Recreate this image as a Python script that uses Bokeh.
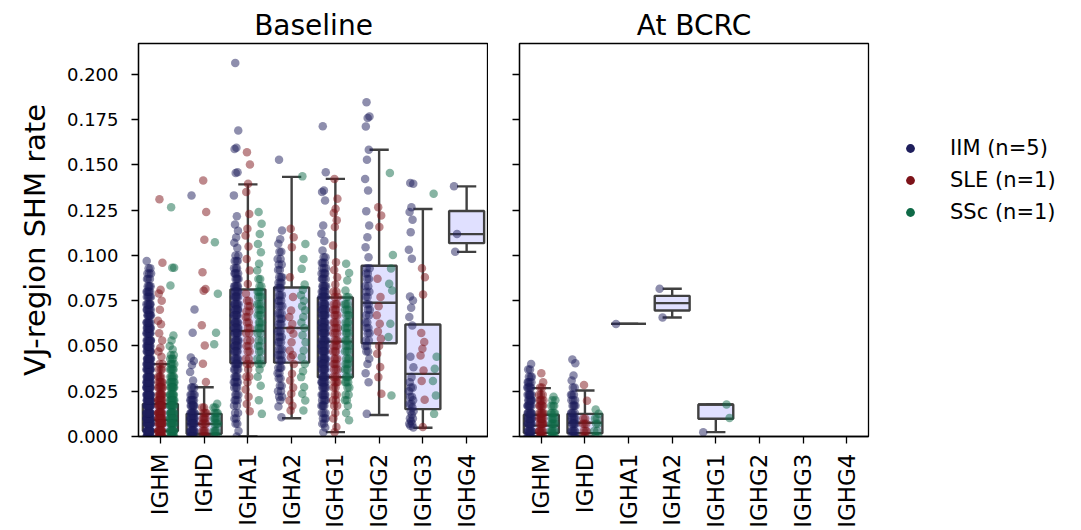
import math
from bokeh.plotting import figure
from bokeh.models import (FactorRange, Range1d, FixedTicker, PrintfTickFormatter,
                          CustomJSTickFormatter, Legend, LegendItem, ColumnDataSource)
from bokeh.layouts import row
from bokeh.embed import file_html
from bokeh.resources import INLINE

# ---------------- data ----------------
isotypes = ["IGHM", "IGHD", "IGHA1", "IGHA2", "IGHG1", "IGHG2", "IGHG3", "IGHG4"]
groups = ["IIM (n=5)", "SLE (n=1)", "SSc (n=1)"]
colors = ["#1e1e5c", "#7d1319", "#0f6a47"]

# box statistics (q1, median, q3, lower whisker, upper whisker)
bl_box_iso = ["IGHM", "IGHD", "IGHA1", "IGHA2", "IGHG1", "IGHG2", "IGHG3", "IGHG4"]
bl_q1 = [0.003, 0.0015, 0.0406, 0.0408, 0.0327, 0.0515, 0.0151, 0.1068]
bl_med = [0.009, 0.007, 0.0583, 0.0599, 0.0524, 0.0739, 0.0346, 0.1118]
bl_q3 = [0.018, 0.0125, 0.0812, 0.0823, 0.0768, 0.0943, 0.0619, 0.1246]
bl_lo = [0.0, 0.0, 0.0, 0.0101, 0.0024, 0.0119, 0.0048, 0.1020]
bl_hi = [0.040, 0.0272, 0.1393, 0.1434, 0.1423, 0.1584, 0.1257, 0.1382]

bc_box_iso = ["IGHM", "IGHD", "IGHA1", "IGHA2", "IGHG1"]
bc_q1 = [0.002, 0.0018, 0.0622, 0.0696, 0.0098]
bc_med = [0.006, 0.0076, 0.0622, 0.0737, 0.0177]
bc_q3 = [0.012, 0.0125, 0.0622, 0.0777, 0.0177]
bc_lo = [0.0, 0.0, 0.0622, 0.0657, 0.0024]
bc_hi = [0.0267, 0.0254, 0.0622, 0.0816, 0.0177]

# points: value or (value, count)
bl_IGHM_IIM = [(0.000, 12), (0.003, 14), (0.007, 14), (0.010, 14), (0.013, 14), (0.017, 14), (0.020, 13),
               (0.023, 13), (0.027, 12), (0.030, 12), (0.033, 11), (0.037, 11), (0.040, 10), (0.043, 10),
               (0.047, 9), (0.050, 9), (0.053, 9), (0.057, 8), (0.060, 8), (0.063, 7), (0.067, 7),
               (0.070, 6), (0.073, 6), (0.077, 5), (0.080, 5), (0.083, 4), (0.087, 3), (0.090, 3),
               (0.093, 2), (0.097, 1)]
bl_IGHM_SLE = [0.131, 0.096, 0.081, 0.079, 0.075, 0.070, 0.064, 0.062, 0.057, 0.053, 0.049, 0.047, 0.044,
               (0.040, 2), (0.037, 3), (0.033, 4), (0.030, 5), (0.027, 6), (0.023, 7), (0.020, 8),
               (0.017, 9), (0.013, 10), (0.010, 10), (0.007, 10), (0.003, 10), (0.000, 10)]
bl_IGHM_SSc = [0.1267, (0.0932, 2), 0.0834, 0.0558, 0.053, 0.050, 0.048, (0.045, 2), (0.043, 3), (0.040, 4),
               (0.037, 5), (0.033, 5), (0.030, 6), (0.027, 7), (0.023, 7), (0.020, 8), (0.017, 8),
               (0.013, 9), (0.010, 9), (0.007, 9), (0.003, 9), (0.000, 8)]
bl_IGHD_IIM = [0.1331, 0.0702, 0.0573, 0.0437, 0.0417, 0.0395, 0.0356, 0.031, (0.027, 3), (0.023, 4),
               (0.020, 5), (0.017, 6), (0.013, 7), (0.010, 8), (0.007, 8), (0.003, 8), (0.000, 7)]
bl_IGHD_SLE = [0.1414, 0.124, 0.1087, 0.0908, 0.0815, 0.0805, 0.0614, 0.0503, 0.0402, 0.0301,
               (0.016, 2), (0.013, 3), (0.010, 4), (0.007, 4), (0.003, 4), (0.000, 3)]
bl_IGHD_SSc = [0.1073, 0.0788, 0.0573, 0.0509, 0.0181, (0.016, 2), (0.013, 3), (0.010, 4), (0.007, 4),
               (0.003, 4), (0.000, 3)]
bl_IGHA1_IIM = [0.2063, 0.1691, 0.1595, 0.1588, 0.1460, 0.1455, 0.1332, 0.1217, 0.1171, 0.1137, 0.1100,
                0.1070, 0.1042, (0.100, 2), (0.097, 3), (0.093, 3), (0.090, 4), (0.087, 4), (0.083, 5),
                (0.080, 5), (0.077, 6), (0.073, 6), (0.070, 6), (0.067, 6), (0.063, 6), (0.060, 6),
                (0.057, 6), (0.053, 6), (0.050, 6), (0.047, 5), (0.043, 5), (0.040, 5), (0.037, 4),
                (0.033, 4), (0.030, 4), (0.027, 3), (0.023, 3), (0.020, 3), (0.017, 2), (0.013, 2),
                (0.010, 2), (0.007, 2), (0.003, 1), (0.000, 1)]
bl_IGHA1_SLE = [0.1570, 0.1503, 0.1396, 0.1350, 0.1229, 0.1147, 0.1110, 0.1050, 0.0981, 0.0917, 0.0843,
                0.0788, (0.075, 2), (0.072, 2), (0.069, 2), (0.066, 2), (0.063, 2), (0.060, 2), (0.057, 2),
                (0.053, 2), (0.050, 2), (0.047, 2), (0.043, 2), (0.040, 2), 0.037, (0.033, 2), 0.030,
                0.026, 0.022, 0.018, 0.014]
bl_IGHA1_SSc = [0.1240, 0.1175, 0.1119, 0.1064, 0.1018, 0.0954, 0.0917, (0.087, 2), (0.083, 2), (0.080, 3),
                (0.077, 3), (0.073, 3), (0.070, 3), (0.067, 3), (0.063, 3), (0.060, 3), (0.057, 2),
                (0.053, 2), (0.050, 2), (0.047, 2), (0.043, 2), (0.040, 2), 0.037, 0.033, 0.028, 0.020,
                0.0125]
bl_IGHA2_IIM = [0.1529, 0.1138, 0.1090, 0.1065, (0.102, 2), (0.098, 2), (0.095, 2), (0.092, 2), (0.088, 3),
                (0.085, 3), (0.082, 3), (0.078, 3), (0.075, 3), (0.072, 3), (0.068, 3), (0.065, 3),
                (0.062, 3), (0.058, 3), (0.055, 3), (0.052, 3), (0.048, 3), (0.045, 3), (0.042, 3),
                (0.038, 3), (0.035, 2), (0.032, 2), (0.028, 2), (0.025, 2), (0.022, 2), 0.020, 0.0166,
                0.0107]
bl_IGHA2_SLE = [0.1147, 0.1101, 0.1046, 0.0880, 0.0770, 0.0696, 0.0660, 0.0622, 0.0590, 0.0567, 0.0520,
                0.0475, 0.0450, 0.0438, 0.0400, 0.0346, 0.0310, 0.0270, 0.0236, 0.0199, 0.0170, 0.0144]
bl_IGHA2_SSc = [0.1437, 0.1064, 0.0981, 0.0926, 0.0840, 0.0810, 0.0780, 0.0750, 0.0720, 0.0696, 0.0660,
                0.0630, 0.0600, 0.0560, 0.0520, 0.0475, 0.0438, 0.0400, 0.0360, 0.0328, 0.0273, 0.0236,
                0.0199, 0.0144]
bl_IGHG1_IIM = [0.1714, 0.1460, 0.1359, 0.1350, 0.1304, 0.1166, 0.1120, 0.1080, 0.1027, (0.099, 2),
                (0.096, 3), (0.093, 3), (0.090, 4), (0.087, 4), (0.083, 5), (0.080, 5), (0.077, 6),
                (0.073, 6), (0.070, 7), (0.067, 7), (0.063, 7), (0.060, 7), (0.057, 7), (0.053, 7),
                (0.050, 7), (0.047, 7), (0.043, 7), (0.040, 7), (0.037, 6), (0.033, 6), (0.030, 6),
                (0.027, 5), (0.023, 5), (0.020, 4), (0.017, 4), (0.013, 3), (0.010, 3), (0.007, 2),
                0.005, 0.0024]
bl_IGHG1_SLE = [0.1423, 0.1313, 0.1258, 0.1235, 0.1194, 0.1157, 0.1055, 0.0963, 0.0920, 0.0880, 0.0840,
                (0.080, 2), (0.077, 2), (0.073, 3), (0.070, 3), (0.067, 3), (0.063, 3), (0.060, 3),
                (0.057, 3), (0.053, 3), (0.050, 3), (0.047, 3), (0.043, 3), (0.040, 3), (0.037, 3),
                (0.033, 3), (0.030, 3), (0.027, 2), (0.023, 2), (0.020, 2), (0.017, 2), 0.013, 0.010,
                0.0052, 0.0024]
bl_IGHG1_SSc = [0.0954, 0.0903, 0.0862, 0.0807, (0.077, 2), (0.073, 3), (0.070, 3), (0.067, 3), (0.063, 3),
                (0.060, 3), (0.057, 3), (0.053, 3), (0.050, 3), (0.047, 3), (0.043, 3), (0.040, 3),
                (0.037, 3), (0.033, 3), (0.030, 3), (0.027, 2), (0.023, 2), (0.020, 2), 0.017, 0.013,
                0.009]
bl_IGHG2_IIM = [0.1847, 0.1768, 0.1760, 0.1713, 0.1584, 0.1529, 0.1423, 0.1359, 0.1245, 0.1166, 0.1101,
                0.1046, 0.0990, (0.093, 2), (0.090, 2), (0.087, 2), (0.083, 2), (0.080, 2), (0.077, 2),
                (0.073, 2), (0.070, 2), (0.067, 2), (0.063, 2), (0.060, 2), (0.057, 2), (0.053, 2),
                (0.050, 2), (0.047, 2), 0.043, 0.040, 0.035, 0.030, 0.0125]
bl_IGHG2_SLE = [0.1267, 0.1221, 0.1157, 0.0871, 0.0770, 0.0720, 0.0670, 0.0623, 0.0580, 0.0540, 0.0500,
                0.0457, 0.0384, 0.0328, 0.0236]
bl_IGHG2_SSc = [0.1455, 0.1002, 0.0928, 0.0844, 0.0807, 0.0623, 0.0549, 0.0227]
bl_IGHG3_IIM = [0.1400, 0.1396, 0.1267, 0.1240, 0.1197, 0.1129, 0.1032, 0.0982, 0.0774, 0.0751, 0.0711,
                0.0660, 0.0613, 0.0440, 0.0383, 0.0328, 0.0300, (0.027, 2), 0.025, (0.022, 2), 0.020,
                (0.018, 2), 0.016, (0.014, 2), 0.012, (0.010, 2), 0.0085, (0.007, 2), 0.006, 0.005]
bl_IGHG3_SLE = [0.0930, 0.0880, 0.0785, 0.0572, 0.0522, 0.0485, 0.0448, 0.0365, 0.0306, 0.0203, 0.0052]
bl_IGHG3_SSc = [0.1341, 0.0440, 0.0374, 0.0306, 0.0227, 0.0125]
bl_IGHG4_IIM = [0.1382, 0.1118, 0.1020]

bc_IGHM_IIM = [(0.000, 8), (0.003, 8), (0.007, 8), (0.010, 8), (0.013, 7), (0.017, 7), (0.020, 6),
               (0.023, 6), (0.027, 5), (0.030, 4), (0.033, 3), (0.037, 2), (0.040, 1)]
bc_IGHM_SLE = [(0.000, 6), (0.003, 6), (0.007, 6), (0.010, 6), (0.013, 5), (0.017, 5), (0.020, 4),
               (0.023, 3), (0.027, 2), 0.030, 0.035]
bc_IGHM_SSc = [(0.000, 5), (0.003, 5), (0.007, 5), (0.010, 4), (0.013, 4), (0.017, 3), (0.020, 2), 0.022]
bc_IGHD_IIM = [0.0425, 0.0405, 0.0337, 0.0310, (0.027, 2), (0.023, 3), (0.020, 3), (0.017, 4), (0.013, 4),
               (0.010, 5), (0.007, 5), (0.003, 5), (0.000, 4)]
bc_IGHD_SLE = [0.0285, 0.0197, (0.010, 2), (0.007, 3), (0.003, 3), (0.000, 2)]
bc_IGHD_SSc = [0.0149, 0.0125, (0.010, 2), (0.007, 2), (0.003, 2), (0.000, 2)]
bc_IGHA1_IIM = [0.0622]
bc_IGHA2_IIM = [0.0816, 0.0657]
bc_IGHG1_IIM = [0.0024]
bc_IGHG1_SSc = [0.0177, 0.0102]

baseline_points = [
    ("IGHM", 0, bl_IGHM_IIM), ("IGHM", 1, bl_IGHM_SLE), ("IGHM", 2, bl_IGHM_SSc),
    ("IGHD", 0, bl_IGHD_IIM), ("IGHD", 1, bl_IGHD_SLE), ("IGHD", 2, bl_IGHD_SSc),
    ("IGHA1", 0, bl_IGHA1_IIM), ("IGHA1", 1, bl_IGHA1_SLE), ("IGHA1", 2, bl_IGHA1_SSc),
    ("IGHA2", 0, bl_IGHA2_IIM), ("IGHA2", 1, bl_IGHA2_SLE), ("IGHA2", 2, bl_IGHA2_SSc),
    ("IGHG1", 0, bl_IGHG1_IIM), ("IGHG1", 1, bl_IGHG1_SLE), ("IGHG1", 2, bl_IGHG1_SSc),
    ("IGHG2", 0, bl_IGHG2_IIM), ("IGHG2", 1, bl_IGHG2_SLE), ("IGHG2", 2, bl_IGHG2_SSc),
    ("IGHG3", 0, bl_IGHG3_IIM), ("IGHG3", 1, bl_IGHG3_SLE), ("IGHG3", 2, bl_IGHG3_SSc),
    ("IGHG4", 0, bl_IGHG4_IIM),
]
bcrc_points = [
    ("IGHM", 0, bc_IGHM_IIM), ("IGHM", 1, bc_IGHM_SLE), ("IGHM", 2, bc_IGHM_SSc),
    ("IGHD", 0, bc_IGHD_IIM), ("IGHD", 1, bc_IGHD_SLE), ("IGHD", 2, bc_IGHD_SSc),
    ("IGHA1", 0, bc_IGHA1_IIM), ("IGHA2", 0, bc_IGHA2_IIM),
    ("IGHG1", 0, bc_IGHG1_IIM), ("IGHG1", 2, bc_IGHG1_SSc),
]

# ---------------- style ----------------
FONT = "DejaVu Sans"
BOX_FILL = "#e0e0ff"
BOX_LINE = "#404040"
LW = 2.4
DODGE = [-0.267, 0.0, 0.267]
JITTER = 0.055
CAP = 0.22
H = 530
y_range = Range1d(0, 0.2171)


def expand(items):
    out = []
    for it in items:
        if isinstance(it, tuple):
            out += [it[0]] * it[1]
        else:
            out.append(it)
    return out


def make_fig(title, width, left, right, show_ylabels):
    p = figure(width=width, height=H, title=title,
               x_range=FactorRange(*isotypes, factor_padding=0, range_padding=0),
               y_range=y_range, output_backend="svg", toolbar_location=None,
               min_border_left=left, min_border_right=right, min_border_top=43, min_border_bottom=94)
    p.title.align = "center"
    p.title.text_font = FONT
    p.title.text_font_size = "28px"
    p.title.text_font_style = "normal"
    p.title.text_color = "black"
    p.title.standoff = 4
    p.xgrid.grid_line_color = None
    p.ygrid.grid_line_color = None
    p.outline_line_color = "black"
    p.outline_line_width = 1.3
    p.outline_line_alpha = 1
    for ax in (p.xaxis[0], p.yaxis[0]):
        ax.axis_line_color = "black"
        ax.axis_line_width = 1.3
        ax.major_tick_line_color = "black"
        ax.major_tick_line_width = 1.3
        ax.major_tick_out = 7
        ax.major_tick_in = 0
        ax.minor_tick_out = 0
        ax.minor_tick_in = 0
        ax.major_label_text_font = FONT
        ax.major_label_text_color = "black"
    p.xaxis.major_label_text_font_size = "23px"
    p.xaxis.major_label_orientation = math.pi / 2
    p.xaxis.major_label_standoff = 10
    p.yaxis.ticker = FixedTicker(ticks=[0.0, 0.025, 0.05, 0.075, 0.1, 0.125, 0.15, 0.175, 0.2])
    p.yaxis.major_label_text_font_size = "18px"
    p.yaxis.major_label_standoff = 13
    if show_ylabels:
        p.yaxis.formatter = PrintfTickFormatter(format="%.3f")
        p.yaxis.axis_label = "VJ-region SHM rate"
        p.yaxis.axis_label_text_font = FONT
        p.yaxis.axis_label_text_font_size = "29px"
        p.yaxis.axis_label_text_font_style = "normal"
        p.yaxis.axis_label_text_color = "black"
        p.yaxis.axis_label_standoff = 12
    else:
        p.yaxis.formatter = CustomJSTickFormatter(code="return ''")
    return p


def draw_boxes(p, iso, q1, med, q3, lo, hi):
    src = ColumnDataSource(dict(
        iso=iso, q1=q1, med=med, q3=q3, lo=lo, hi=hi,
        ml=[(i, -0.4) for i in iso], mr=[(i, 0.4) for i in iso],
        cl=[(i, -CAP) for i in iso], cr=[(i, CAP) for i in iso]))
    p.segment(x0="iso", y0="q3", x1="iso", y1="hi", source=src, line_color=BOX_LINE, line_width=LW)
    p.segment(x0="iso", y0="q1", x1="iso", y1="lo", source=src, line_color=BOX_LINE, line_width=LW)
    p.segment(x0="cl", y0="hi", x1="cr", y1="hi", source=src, line_color=BOX_LINE, line_width=LW)
    p.segment(x0="cl", y0="lo", x1="cr", y1="lo", source=src, line_color=BOX_LINE, line_width=LW)
    p.vbar(x="iso", width=0.8, bottom="q1", top="q3", source=src,
           fill_color=BOX_FILL, line_color=BOX_LINE, line_width=LW)
    p.segment(x0="ml", y0="med", x1="mr", y1="med", source=src, line_color=BOX_LINE, line_width=LW)


def draw_points(p, table):
    for g in range(3):
        xs, ys = [], []
        for iso, gi, items in table:
            if gi != g:
                continue
            vals = expand(items)
            for k, v in enumerate(vals):
                off = DODGE[g] + ((k * 0.618034 + 0.31) % 1.0 - 0.5) * 2 * JITTER
                xs.append((iso, off))
                ys.append(v)
        src = ColumnDataSource(dict(x=xs, y=ys))
        p.scatter(x="x", y="y", source=src, size=8.5, marker="circle",
                  fill_color=colors[g], fill_alpha=0.5, line_color=None)


p1 = make_fig("Baseline", 488, 138, 0, True)
draw_boxes(p1, bl_box_iso, bl_q1, bl_med, bl_q3, bl_lo, bl_hi)
draw_points(p1, baseline_points)

p2 = make_fig("At BCRC", 382, 31, 2, False)
draw_boxes(p2, bc_box_iso, bc_q1, bc_med, bc_q3, bc_lo, bc_hi)
draw_points(p2, bcrc_points)

# legend panel
p3 = figure(width=200, height=H, x_range=Range1d(0, 1), y_range=Range1d(0, 1),
            output_backend="svg", toolbar_location=None, min_border=0,
            x_axis_location=None, y_axis_location=None, outline_line_color=None)
p3.grid.visible = False
legend_renderers = [p3.scatter(x=[0.5], y=[float("nan")], size=9, marker="circle",
                               fill_color=c, line_color=None) for c in colors]
legend = Legend(items=[LegendItem(label=g, renderers=[r]) for g, r in zip(groups, legend_renderers)],
                location=(29, 212), orientation="vertical", border_line_color=None,
                background_fill_alpha=0, label_text_font=FONT, label_text_font_size="21px",
                label_text_color="black", glyph_width=22, glyph_height=22, label_height=22,
                spacing=8, label_standoff=29, padding=0, margin=0)
p3.add_layout(legend)

layout = row(p1, p2, p3)
open("out.html", "w").write(file_html(layout, INLINE))
